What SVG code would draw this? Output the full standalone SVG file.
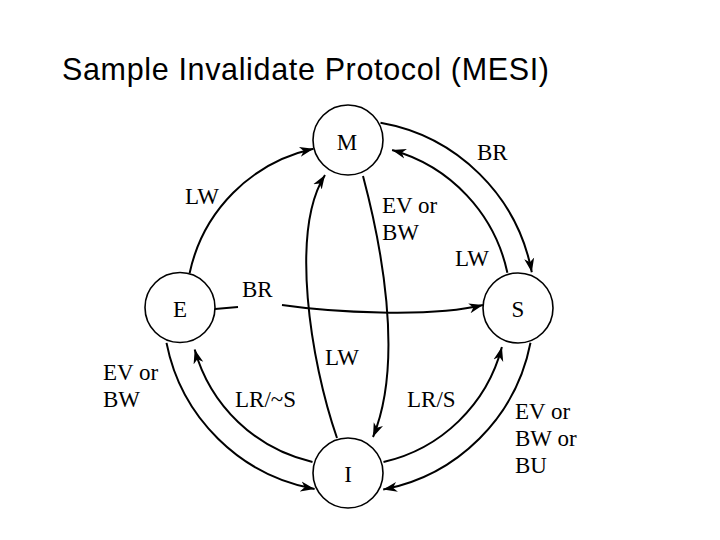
<svg xmlns="http://www.w3.org/2000/svg" width="720" height="540" viewBox="0 0 720 540">
<defs>
<style>
.node{fill:#fff;stroke:#000;stroke-width:1.6}
.nl{font-family:"Liberation Serif","Times New Roman",serif;font-size:23px;fill:#000;text-anchor:middle}
.lb{font-family:"Liberation Serif","Times New Roman",serif;font-size:23px;fill:#000}
.edge{fill:none;stroke:#000;stroke-width:2}
.title{font-family:"Liberation Sans",Arial,sans-serif;font-size:30.5px;fill:#000}
</style>
<marker id="arr" markerUnits="userSpaceOnUse" markerWidth="16" markerHeight="12" viewBox="-14 -6 16 12" refX="0" refY="0" orient="auto">
<path d="M0,0 L-14,-5 L-10,0 L-14,5 Z" fill="#000"/>
</marker>
</defs>
<rect width="720" height="540" fill="#fff"/>
<text class="title" x="62" y="80" textLength="487" lengthAdjust="spacing">Sample Invalidate Protocol (MESI)</text>
<g id="connectors">
<path id="E-M-LW" class="edge" d="M189.6,273.3 A162,162 0 0 1 313.5,148.8" marker-end="url(#arr)"/>
<path id="M-S-BR" class="edge" d="M380.5,122.8 A187,187 0 0 1 531.8,272.2" marker-end="url(#arr)"/>
<path id="S-M-LW" class="edge" d="M507.4,272.8 A163,163 0 0 0 392.1,150.0" marker-end="url(#arr)"/>
<path id="E-I-EV" class="edge" d="M166.5,342.9 A185,185 0 0 0 314.6,489.0" marker-end="url(#arr)"/>
<path id="I-E-LR" class="edge" d="M312.5,462.0 A159,159 0 0 1 194.7,349.5" marker-end="url(#arr)"/>
<path id="I-S-LR" class="edge" d="M383.5,462.0 A159,159 0 0 0 501.9,347.1" marker-end="url(#arr)"/>
<path id="S-I-EV" class="edge" d="M530.5,342.8 A186,186 0 0 1 383.2,489.6" marker-end="url(#arr)"/>
<path id="M-I-EV" class="edge" d="M363,176 C380,240 405,360 373,437" marker-end="url(#arr)"/>
<path id="I-M-LW" class="edge" d="M337,438 C310,360 290,230 325,175" marker-end="url(#arr)"/>
<path id="E-S-BR-a" class="edge" d="M215,309 L238,307"/>
<path id="E-S-BR-b" class="edge" d="M282,305 C330,312 430,318 483,305" marker-end="url(#arr)"/>
</g>
<g id="labels">
<text class="lb" x="185" y="204">LW</text>
<text class="lb" x="477" y="160">BR</text>
<text class="lb" x="382" y="213">EV or</text>
<text class="lb" x="382" y="240">BW</text>
<text class="lb" x="455" y="266">LW</text>
<text class="lb" x="242" y="297">BR</text>
<text class="lb" x="325" y="365">LW</text>
<text class="lb" x="103" y="380">EV or</text>
<text class="lb" x="103" y="407">BW</text>
<text class="lb" x="235" y="407">LR/~S</text>
<text class="lb" x="407" y="407">LR/S</text>
<text class="lb" x="515" y="419">EV or</text>
<text class="lb" x="515" y="446">BW or</text>
<text class="lb" x="515" y="473">BU</text>
</g>
<g id="node-M"><circle class="node" cx="348" cy="140" r="35"/><text class="nl" x="347" y="150">M</text></g>
<g id="node-E"><circle class="node" cx="180" cy="307.5" r="35"/><text class="nl" x="180" y="317">E</text></g>
<g id="node-S"><circle class="node" cx="518" cy="308" r="35"/><text class="nl" x="518" y="317">S</text></g>
<g id="node-I"><circle class="node" cx="348" cy="473" r="35"/><text class="nl" x="348" y="482">I</text></g>
</svg>
